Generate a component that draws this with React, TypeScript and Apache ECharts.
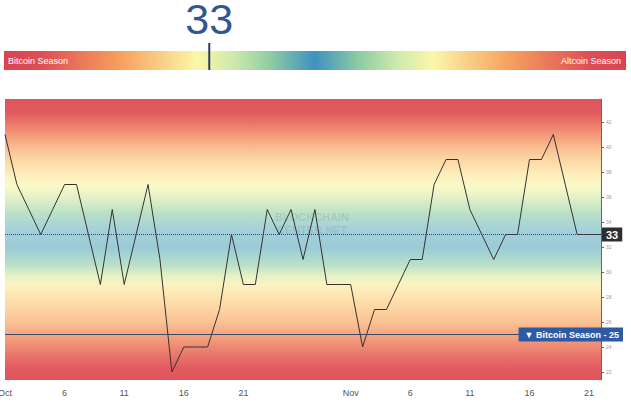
import React, { useEffect, useRef } from "react";
import * as echarts from "echarts";

const dates: string[] = [
  "Oct 1", "Oct 2", "Oct 3", "Oct 4", "Oct 5", "Oct 6", "Oct 7", "Oct 8", "Oct 9", "Oct 10",
  "Oct 11", "Oct 12", "Oct 13", "Oct 14", "Oct 15", "Oct 16", "Oct 17", "Oct 18", "Oct 19", "Oct 20",
  "Oct 21", "Oct 22", "Oct 23", "Oct 24", "Oct 25", "Oct 27", "Oct 28", "Oct 30", "Oct 31",
  "Nov 1", "Nov 2", "Nov 3", "Nov 4", "Nov 5", "Nov 6", "Nov 7", "Nov 8", "Nov 9", "Nov 10",
  "Nov 11", "Nov 12", "Nov 13", "Nov 14", "Nov 15", "Nov 16", "Nov 17", "Nov 18", "Nov 19", "Nov 20",
  "Nov 21", "Nov 22",
];

const values: number[] = [
  41, 37, 35, 33, 35, 37, 37, 33, 29, 35,
  29, 33, 37, 31, 22, 24, 24, 24, 27, 33,
  29, 29, 35, 33, 35, 31, 35, 29, 29,
  29, 24, 27, 27, 29, 31, 31, 37, 39, 39,
  35, 33, 31, 33, 33, 39, 39, 41, 37, 33,
  33, 33,
];

const tickDates: string[] = ["Oct 1", "Oct 6", "Oct 11", "Oct 16", "Oct 21", "Nov 1", "Nov 6", "Nov 11", "Nov 16", "Nov 21"];
const tickLabels: string[] = ["Oct", "6", "11", "16", "21", "Nov", "6", "11", "16", "21"];
const yTicks: number[] = [22, 24, 26, 28, 30, 32, 34, 36, 38, 40, 42];

const currentValue = 33;
const bitcoinSeasonLevel = 25;
const gaugeMin = 0;
const gaugeMax = 100;

const plotStops: [number, string][] = [
  [0, "#e0555c"], [0.05, "#e15a5f"], [0.11, "#ef8a71"], [0.16, "#f8b489"], [0.21, "#fcd4a2"],
  [0.27, "#fdefbb"], [0.31, "#fbf9c8"], [0.36, "#dcefc6"], [0.41, "#b8e0c8"], [0.47, "#a2cfdb"],
  [0.53, "#9ccbd8"], [0.59, "#b8e0c8"], [0.63, "#e6f2c4"], [0.66, "#fcf2c0"], [0.71, "#fde2ae"],
  [0.79, "#fbc494"], [0.86, "#f29878"], [0.93, "#e56a67"], [0.96, "#e05a5f"], [1, "#e0555c"],
];

const barStops: [number, string][] = [
  [0, "#d9444f"], [0.06, "#dd4f55"], [0.19, "#f7a25f"], [0.31, "#fbf7a9"], [0.37, "#cde9ac"],
  [0.43, "#8dcba3"], [0.5, "#3e92c0"], [0.57, "#8dcba3"], [0.63, "#cde9ac"], [0.69, "#fbf7a9"],
  [0.81, "#f7a25f"], [0.94, "#dd4f55"], [1, "#d9444f"],
];

function grad(stops: [number, string][], vertical: boolean) {
  return {
    type: "linear",
    x: 0,
    y: 0,
    x2: vertical ? 0 : 1,
    y2: vertical ? 1 : 0,
    colorStops: stops.map(([offset, color]) => ({ offset, color })),
  };
}

export default function App() {
  const ref = useRef<HTMLDivElement>(null);
  useEffect(() => {
    if (!ref.current) return;
    const chart = echarts.init(ref.current, undefined, { renderer: "svg" });
    const font = "'Liberation Sans', Arial, sans-serif";
    chart.setOption({
      animation: false,
      textStyle: { fontFamily: font },
      grid: [
        {
          left: 5, right: 30, top: 99, bottom: 30,
          outerBoundsMode: "none", containLabel: false,
          show: true, borderWidth: 0,
          backgroundColor: grad(plotStops, true),
        },
        {
          left: 4, right: 5, top: 51, height: 19,
          outerBoundsMode: "none", containLabel: false,
          show: true, borderWidth: 0,
          backgroundColor: grad(barStops, false),
        },
      ],
      xAxis: [
        {
          type: "category",
          gridIndex: 0,
          data: dates,
          boundaryGap: false,
          axisLine: { show: false },
          axisTick: { show: false },
          splitLine: { show: false },
          axisLabel: {
            interval: (_i: number, v: string) => tickDates.includes(v),
            formatter: (v: string) => {
              const k = tickDates.indexOf(v);
              return k >= 0 ? tickLabels[k] : "";
            },
            color: "#555",
            fontSize: 9,
            margin: 8,
          },
        },
        {
          type: "value", gridIndex: 1, min: gaugeMin, max: gaugeMax, show: false,
        },
      ],
      yAxis: [
        {
          type: "value",
          gridIndex: 0,
          position: "right",
          min: 21.36,
          max: 43.84,
          splitLine: { show: false },
          axisLine: { show: true, lineStyle: { color: "#666", width: 1 } },
          axisTick: { show: true, length: 3, customValues: yTicks, lineStyle: { color: "#666" } },
          axisLabel: { customValues: yTicks, fontSize: 5, color: "#999", margin: 5 },
        },
        { type: "value", gridIndex: 1, min: 0, max: 1, show: false },
      ],
      series: [
        {
          type: "line",
          data: values,
          xAxisIndex: 0,
          yAxisIndex: 0,
          showSymbol: false,
          symbol: "none",
          lineStyle: { color: "#333", width: 1 },
          z: 3,
          markLine: {
            silent: true,
            symbol: ["none", "none"],
            animation: false,
            data: [
              {
                yAxis: currentValue,
                lineStyle: { type: "dotted", color: "#3a4660", width: 1 },
                label: {
                  show: true,
                  position: "end",
                  formatter: String(currentValue),
                  backgroundColor: "#2e2e2e",
                  color: "#fff",
                  fontSize: 11,
                  fontWeight: "bold",
                  padding: [2, 4, 1, 4],
                  distance: 1,
                },
              },
              {
                yAxis: bitcoinSeasonLevel,
                lineStyle: { type: "solid", color: "#3a4a68", width: 1 },
                label: { show: false },
              },
            ],
          },
        },
        { type: "scatter", xAxisIndex: 1, yAxisIndex: 1, data: [] },
      ],
    });

    const xm = chart.convertToPixel({ xAxisIndex: 1 }, currentValue) as number;
    const y25 = chart.convertToPixel({ yAxisIndex: 0 }, bitcoinSeasonLevel) as number;
    const xEnd = chart.convertToPixel({ xAxisIndex: 0 }, dates[dates.length - 1]) as number;
    const gL = chart.convertToPixel({ xAxisIndex: 1 }, gaugeMin) as number;
    const gR = chart.convertToPixel({ xAxisIndex: 1 }, gaugeMax) as number;
    const midX = (chart.convertToPixel({ xAxisIndex: 0 }, dates[0]) as number + xEnd) / 2;
    const midY = chart.convertToPixel({ yAxisIndex: 0 }, 33.9) as number;

    chart.setOption({
      graphic: [
        {
          type: "text", x: gL + 4, y: 60.5, z: 10,
          style: { text: "Bitcoin Season", fill: "#fff", font: `9px ${font}`, align: "left", verticalAlign: "middle" },
        },
        {
          type: "text", x: gR - 5, y: 60.5, z: 10,
          style: { text: "Altcoin Season", fill: "#fff", font: `9px ${font}`, align: "right", verticalAlign: "middle" },
        },
        {
          type: "line", z: 10,
          shape: { x1: xm, y1: 43, x2: xm, y2: 70 },
          style: { stroke: "#2b3d5c", lineWidth: 2 },
        },
        {
          type: "text", x: xm, y: 19, z: 10,
          style: { text: String(currentValue), fill: "#2f5796", font: `43px ${font}`, align: "center", verticalAlign: "middle" },
        },
        {
          type: "text", x: midX + 9, y: midY, z: 2,
          style: {
            text: "BLOCKCHAIN\nCENTER.NET", fill: "rgba(140,150,160,0.28)",
            font: `bold 11px ${font}`, align: "center", verticalAlign: "middle", lineHeight: 13,
          },
        },
        {
          type: "text", x: xEnd + 22, y: y25, z: 20,
          style: {
            text: "▼ Bitcoin Season - 25", fill: "#fff", font: `bold 9px ${font}`,
            align: "right", verticalAlign: "middle",
            backgroundColor: "#2d5aa2", padding: [3, 4, 2, 6],
          },
        },
      ],
    });

    return () => chart.dispose();
  }, []);
  return (
    <div
      ref={ref}
      style={{ position: "fixed", left: 0, top: 0, width: 631, height: 410, background: "#fff" }}
    />
  );
}
